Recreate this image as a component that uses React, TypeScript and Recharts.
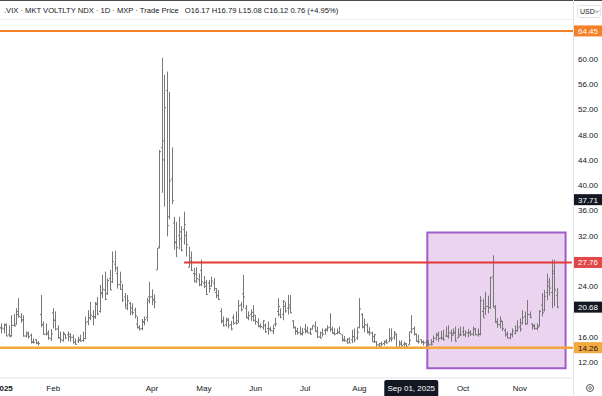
import React from 'react';
import { ComposedChart, Bar, XAxis, YAxis, ReferenceLine, ReferenceArea } from 'recharts';

// each bar: [day, open, high, low, close]
type Ohlc = [number, number, number, number, number];

const dec: Ohlc[] = [[30, 17.8, 19.4, 17.2, 17.4], [31, 17.4, 18.1, 16.5, 17.35]];
const jan: Ohlc[] = [
  [2, 17.2, 18.1, 16.5, 17.9], [3, 17.8, 18.1, 16.1, 16.1], [6, 16.3, 17.8, 16.0, 16.0], [7, 16.2, 19.4, 16.0, 17.8],
  [8, 17.8, 19.6, 17.6, 17.7], [10, 18.0, 20.5, 17.9, 19.5], [13, 20.0, 22.1, 19.0, 19.2], [14, 19.1, 19.7, 18.2, 18.7],
  [15, 18.6, 19.4, 16.0, 16.1], [16, 16.1, 16.8, 15.9, 16.6], [17, 16.3, 16.8, 15.7, 16.0], [21, 16.2, 16.5, 14.9, 15.1],
  [22, 15.2, 15.7, 14.9, 15.1], [23, 15.5, 15.6, 14.8, 15.0], [24, 15.0, 15.3, 14.6, 14.9], [27, 19.5, 22.6, 17.5, 17.9],
  [28, 17.9, 18.4, 16.3, 16.4], [29, 16.4, 18.1, 16.2, 16.6], [30, 16.4, 17.0, 15.5, 15.8], [31, 15.7, 17.2, 15.3, 16.4],
];
const feb: Ohlc[] = [
  [3, 19.8, 20.5, 17.3, 18.6], [4, 18.6, 20.0, 17.0, 17.2], [5, 17.2, 17.8, 15.7, 15.8], [6, 15.8, 16.8, 15.0, 15.5],
  [7, 15.4, 16.8, 15.2, 16.5], [10, 16.3, 16.4, 15.6, 15.8], [11, 16.3, 16.8, 15.3, 16.0], [12, 16.4, 16.5, 15.2, 15.9],
  [13, 15.9, 16.3, 14.9, 15.1], [14, 15.1, 15.7, 14.7, 14.8], [18, 15.3, 16.0, 15.0, 15.4], [19, 15.6, 16.3, 15.2, 15.3],
  [20, 15.4, 16.8, 15.2, 15.7], [21, 15.7, 19.2, 15.6, 18.2], [24, 18.4, 20.2, 17.8, 19.0], [25, 19.0, 21.5, 18.6, 19.4],
  [26, 19.2, 20.2, 17.8, 19.1], [27, 19.2, 21.5, 18.8, 21.1], [28, 21.3, 22.3, 19.4, 19.6],
];
const mar: Ohlc[] = [
  [3, 20.0, 24.2, 19.8, 22.8], [4, 23.0, 25.8, 22.1, 23.5], [5, 23.4, 26.3, 21.8, 21.9], [6, 22.8, 25.2, 22.6, 24.9],
  [7, 25.2, 26.6, 23.4, 23.4], [10, 24.7, 29.5, 24.5, 27.9], [11, 27.5, 29.6, 26.3, 26.9], [12, 26.0, 27.1, 23.6, 24.2],
  [13, 24.3, 26.3, 23.4, 24.7], [14, 23.5, 24.4, 21.5, 21.8], [17, 22.3, 22.9, 20.5, 20.5], [18, 21.0, 22.6, 20.2, 21.7],
  [19, 21.3, 21.5, 19.4, 19.9], [20, 20.5, 21.3, 19.4, 19.8], [21, 20.2, 20.6, 18.9, 19.3], [24, 18.0, 19.2, 17.3, 17.5],
  [25, 17.4, 17.8, 17.0, 17.2], [26, 17.3, 18.8, 17.0, 18.3], [27, 18.4, 19.2, 17.8, 18.7], [28, 19.0, 22.1, 18.4, 21.7],
  [31, 22.3, 24.7, 21.3, 22.3],
];
const apr: Ohlc[] = [
  [1, 22.3, 23.5, 21.0, 21.8], [2, 21.9, 22.7, 20.5, 21.5], [3, 26.6, 30.0, 26.6, 30.0], [4, 30.2, 45.6, 30.0, 45.3],
  [7, 46.0, 60.2, 38.8, 47.0], [8, 44.0, 57.5, 36.6, 52.3], [9, 55.0, 58.0, 31.9, 33.6], [10, 35.0, 54.8, 34.6, 40.7],
  [11, 41.0, 46.0, 37.0, 37.6], [14, 34.0, 35.0, 29.8, 30.9], [15, 31.0, 34.2, 28.6, 30.1], [16, 32.0, 35.0, 29.8, 32.6],
  [17, 31.5, 33.5, 29.5, 29.7], [21, 33.0, 35.8, 30.6, 33.8], [22, 32.0, 32.7, 28.7, 30.6], [23, 27.0, 30.3, 27.0, 28.5],
  [24, 28.0, 29.5, 26.4, 26.5], [25, 26.0, 26.9, 24.6, 24.8], [28, 25.9, 27.0, 24.5, 25.2], [29, 25.0, 26.0, 24.0, 24.2],
  [30, 26.5, 28.2, 24.0, 24.7],
];
const may: Ohlc[] = [
  [1, 24.5, 25.6, 23.7, 24.6], [2, 24.0, 25.0, 22.6, 22.7], [5, 24.5, 25.0, 23.0, 23.6], [6, 24.0, 25.5, 23.9, 24.8],
  [7, 24.5, 25.3, 23.2, 23.6], [8, 23.0, 23.7, 22.1, 22.5], [9, 22.5, 23.4, 21.8, 21.9], [12, 20.0, 20.5, 18.1, 18.4],
  [13, 18.6, 19.2, 17.6, 17.7], [14, 17.9, 19.0, 17.6, 18.6], [15, 18.8, 18.9, 17.3, 17.8], [16, 17.9, 18.5, 17.0, 17.2],
  [19, 19.0, 19.5, 17.9, 18.1], [20, 18.2, 20.0, 17.9, 18.1], [21, 18.5, 21.8, 18.2, 20.9], [22, 21.0, 21.5, 20.0, 20.3],
  [23, 22.8, 25.8, 20.5, 22.3], [27, 20.5, 21.0, 18.9, 19.0], [28, 19.0, 20.0, 18.6, 19.3], [29, 19.5, 20.3, 18.5, 19.2],
  [30, 19.8, 21.0, 18.4, 18.6],
];
const jun: Ohlc[] = [
  [2, 19.4, 19.4, 17.9, 18.4], [3, 18.3, 18.9, 17.5, 17.7], [4, 17.6, 18.1, 17.3, 17.6], [5, 17.5, 18.6, 17.1, 18.5],
  [6, 17.8, 18.1, 16.6, 16.8], [9, 17.3, 18.4, 16.3, 17.2], [10, 17.2, 17.6, 16.8, 17.0], [11, 16.9, 17.9, 16.4, 17.3],
  [12, 18.0, 19.0, 17.6, 18.0], [13, 20.0, 22.1, 19.2, 20.8], [16, 19.5, 20.5, 18.9, 19.1], [17, 19.5, 21.8, 18.6, 21.6],
  [18, 20.8, 21.5, 19.8, 20.1], [20, 20.5, 22.6, 19.5, 20.6], [23, 21.0, 22.6, 19.7, 19.8], [24, 18.5, 18.6, 17.3, 17.5],
  [25, 17.4, 17.6, 16.3, 16.8], [26, 16.9, 17.4, 16.3, 16.6], [27, 16.7, 17.6, 16.3, 16.3], [30, 16.5, 17.4, 16.2, 16.7],
];
const jul: Ohlc[] = [
  [1, 17.2, 18.0, 16.5, 16.8], [2, 17.0, 17.6, 16.6, 16.6], [3, 16.6, 17.4, 16.3, 16.4], [7, 17.2, 17.8, 17.1, 17.8],
  [8, 17.6, 18.4, 16.8, 16.8], [9, 16.9, 17.6, 15.8, 15.9], [10, 16.0, 16.8, 15.7, 15.8], [11, 16.6, 17.3, 16.0, 16.4],
  [14, 17.0, 17.3, 16.3, 17.2], [15, 17.0, 17.8, 16.8, 17.4], [16, 17.5, 19.7, 16.8, 17.2], [17, 17.1, 17.6, 16.5, 16.5],
  [18, 16.6, 17.3, 16.2, 16.4], [21, 16.5, 17.3, 16.4, 16.7], [22, 16.7, 17.6, 16.5, 16.5], [23, 16.3, 16.3, 15.2, 15.4],
  [24, 15.6, 16.1, 15.2, 15.4], [25, 15.3, 15.8, 14.9, 15.0], [28, 15.6, 15.9, 15.0, 15.0], [29, 15.5, 17.1, 15.0, 16.0],
  [30, 16.0, 17.3, 15.1, 15.5], [31, 15.8, 17.5, 15.5, 16.7],
];
const aug: Ohlc[] = [
  [1, 17.5, 22.1, 17.3, 20.4], [4, 19.5, 19.7, 17.3, 17.5], [5, 17.6, 18.9, 16.7, 17.9], [6, 17.8, 18.1, 16.5, 16.8],
  [7, 16.6, 17.5, 16.2, 16.6], [8, 16.6, 16.8, 15.2, 15.2], [11, 16.0, 16.4, 15.0, 16.3], [12, 15.2, 15.3, 14.4, 14.7],
  [13, 14.7, 15.0, 14.4, 14.5], [14, 14.9, 15.2, 14.5, 14.8], [15, 14.9, 15.4, 14.6, 15.1], [18, 15.3, 15.6, 14.9, 15.0],
  [19, 15.2, 17.3, 15.2, 15.6], [20, 15.8, 17.3, 15.2, 15.7], [21, 15.9, 16.9, 15.5, 16.6], [22, 16.3, 16.5, 14.2, 14.2],
  [25, 14.3, 15.4, 14.3, 14.8], [26, 15.0, 15.4, 14.4, 14.6], [27, 14.8, 15.2, 14.4, 14.9], [28, 14.8, 15.0, 14.2, 14.4],
  [29, 14.7, 16.8, 14.7, 15.4],
];
const sep: Ohlc[] = [
  [2, 16.8, 19.4, 16.5, 17.2], [3, 17.3, 17.6, 16.2, 16.4], [4, 16.4, 16.5, 15.2, 15.3], [5, 15.2, 16.3, 14.9, 15.2],
  [8, 15.5, 15.6, 14.9, 15.1], [9, 15.2, 15.4, 14.6, 15.0], [10, 15.1, 15.5, 14.4, 15.3], [11, 15.2, 15.4, 14.6, 14.7],
  [12, 14.8, 15.6, 14.6, 14.8], [15, 15.2, 16.2, 15.0, 15.7], [16, 15.8, 16.6, 15.4, 16.4], [17, 16.2, 16.8, 15.2, 15.7],
  [18, 15.8, 16.9, 15.5, 15.7], [19, 15.8, 17.1, 15.4, 15.5], [22, 16.1, 17.6, 16.0, 16.1], [23, 16.0, 17.8, 15.7, 16.6],
  [24, 16.6, 17.1, 15.2, 16.2], [25, 16.5, 17.3, 16.2, 16.7], [26, 16.6, 17.6, 15.2, 15.3], [29, 15.8, 17.3, 15.8, 16.1],
  [30, 16.4, 17.6, 16.1, 16.3],
];
const oct: Ohlc[] = [
  [1, 16.8, 17.6, 16.1, 16.3], [2, 16.3, 17.0, 15.9, 16.6], [3, 16.6, 17.2, 15.9, 16.7], [6, 16.6, 17.0, 16.1, 16.4],
  [7, 16.4, 17.6, 16.1, 17.2], [8, 17.2, 17.4, 16.2, 16.3], [9, 16.3, 17.3, 16.0, 16.4], [10, 16.4, 22.4, 16.2, 21.7],
  [13, 20.0, 22.0, 19.0, 19.0], [14, 20.5, 23.1, 19.4, 20.8], [15, 20.8, 22.5, 19.7, 20.6], [16, 20.6, 25.5, 20.4, 25.3],
  [17, 25.5, 28.9, 20.6, 20.8], [20, 20.5, 21.0, 18.2, 18.2], [21, 18.4, 18.9, 17.4, 17.9], [22, 17.9, 19.2, 17.3, 18.6],
  [23, 18.4, 18.5, 16.9, 17.3], [24, 17.0, 17.3, 16.0, 16.4], [27, 16.3, 16.8, 15.7, 15.8], [28, 15.8, 16.6, 15.6, 16.4],
  [29, 16.3, 17.3, 15.9, 16.9], [30, 16.5, 17.8, 16.4, 16.9], [31, 17.0, 18.6, 16.8, 17.4],
];
const nov: Ohlc[] = [
  [3, 17.6, 18.9, 16.8, 17.2], [4, 18.2, 20.2, 17.9, 19.0], [5, 19.2, 20.0, 17.9, 18.0], [6, 18.0, 21.8, 18.0, 19.5],
  [7, 19.5, 20.0, 18.9, 19.1], [10, 18.0, 18.1, 17.1, 17.6], [11, 17.8, 18.0, 17.1, 17.3], [12, 17.3, 18.1, 17.0, 17.5],
  [13, 17.7, 20.2, 17.6, 20.0], [14, 21.0, 22.9, 19.2, 19.8], [17, 20.2, 23.4, 20.0, 22.4], [18, 23.0, 26.0, 21.8, 24.7],
  [19, 24.0, 25.3, 22.5, 23.7], [20, 23.0, 28.2, 20.5, 26.4], [21, 26.0, 28.2, 20.8, 23.4], [24, 22.5, 23.7, 20.5, 20.7],
];
// empty sessions to the right of the last bar
const future = ['Nov 25', 'Nov 26', 'Nov 28', 'Dec 1', 'Dec 2', 'Dec 3'];

const months: [string, Ohlc[]][] = [
  ['Dec', dec], ['Jan', jan], ['Feb', feb], ['Mar', mar], ['Apr', apr], ['May', may],
  ['Jun', jun], ['Jul', jul], ['Aug', aug], ['Sep', sep], ['Oct', oct], ['Nov', nov],
];

const tickDates = ['Jan 2', 'Feb 3', 'Apr 1', 'May 1', 'Jun 2', 'Jul 1', 'Aug 1', 'Sep 2', 'Oct 1', 'Nov 3'];
const tickLabels = ['2025', 'Feb', 'Apr', 'May', 'Jun', 'Jul', 'Aug', 'Sep 01, 2025', 'Oct', 'Nov'];
const priceTicks = [12, 16, 24, 32, 36, 40, 44, 48, 52, 56, 60];

const topLevel = 64.45;
const markLevel = 37.71;
const resistLevel = 27.76;
const lastPrice = 20.68;
const supportLevel = 14.26;
const resistStart = 'Apr 21';
const boxStart = 'Sep 11';
const boxEnd = 'Nov 28';
const boxTop = 32.5;
const boxBottom = 11.0;

const header = '.VIX · MKT VOLTLTY NDX · 1D · MXP · Trade Price';
const headerValues = 'O16.17  H16.79  L15.08  C16.12  0.76 (+4.95%)';

const data = [
  ...months.flatMap(([m, rows]) =>
    rows.map(([day, o, h, l, c]) => ({ d: `${m} ${day}`, o, h, l, c }))
  ),
  ...future.map((d) => ({ d, o: null, h: null, l: null, c: null })),
];
const lastDate = future[future.length - 1];

const OhlcShape = (props: any) => {
  const { x, y, width, height, payload } = props;
  if (!payload || payload.h == null || !Number.isFinite(y)) return null;
  const top = Math.min(y, y + height);
  const span = Math.abs(height);
  const range = payload.h - payload.l || 1;
  const yOf = (v: number) => top + ((payload.h - v) / range) * span;
  const cx = Math.round(x + width / 2) + 0.5;
  return (
    <g stroke="#787878" strokeWidth={1}>
      <line x1={cx} x2={cx} y1={top} y2={top + Math.max(span, 1)} />
      <line x1={cx - 1.5} x2={cx} y1={yOf(payload.o)} y2={yOf(payload.o)} />
      <line x1={cx} x2={cx + 1.5} y1={yOf(payload.c)} y2={yOf(payload.c)} />
    </g>
  );
};

const PriceTag = (props: any) => {
  const { viewBox, price, bg, fg } = props;
  if (!viewBox) return null;
  const x = viewBox.x + viewBox.width;
  const y = viewBox.y;
  return (
    <g>
      <rect x={x + 1} y={y - 5.5} width={28} height={11} fill={bg} />
      <text x={x + 15} y={y + 3} textAnchor="middle" fontSize={8} fill={fg}>
        {price.toFixed(2)}
      </text>
    </g>
  );
};

const DateTick = (props: any) => {
  const { x, y, payload } = props;
  const label = tickLabels[tickDates.indexOf(payload.value)];
  if (label === 'Sep 01, 2025') {
    return (
      <g>
        <rect x={x - 27} y={y + 2} width={54} height={17} rx={2} fill="#131722" />
        <text x={x} y={y + 13} textAnchor="middle" fontSize={8} fill="#ffffff">{label}</text>
      </g>
    );
  }
  return (
    <text x={x} y={y + 13} textAnchor="middle" fontSize={8} fill="#131722" fontWeight={label === '2025' ? 700 : 400}>
      {label}
    </text>
  );
};

export default function App() {
  return (
    <div style={{ position: 'absolute', left: 0, top: 0, width: 602, height: 396, background: '#fff', fontFamily: '"Liberation Sans", Arial, sans-serif' }}>
      <ComposedChart width={602} height={396} data={data} margin={{ top: 20, right: 0, bottom: 0, left: -2.3 }} barCategoryGap={0}>
        <XAxis dataKey="d" ticks={tickDates} interval={0} tick={<DateTick />} tickLine={false} tickSize={0} tickMargin={0} height={18} axisLine={{ stroke: '#e0e3eb' }} />
        <YAxis orientation="right" width={29} domain={[9.45, 66.18]} allowDataOverflow ticks={priceTicks} tickFormatter={(v: number) => v.toFixed(2)} tick={{ fontSize: 8, fill: '#131722' }} tickLine={false} tickSize={0} tickMargin={5} axisLine={false} />
        <ReferenceArea x1={boxStart} x2={boxEnd} y1={boxBottom} y2={boxTop} fill="#9c27b0" fillOpacity={0.2} stroke="#a15cc9" strokeWidth={2} strokeOpacity={1} ifOverflow="visible" />
        <ReferenceLine y={topLevel} stroke="#f58025" strokeWidth={2} label={<PriceTag price={topLevel} bg="#f58025" fg="#ffffff" />} />
        <ReferenceLine y={supportLevel} stroke="#f3a73b" strokeWidth={2.5} label={<PriceTag price={supportLevel} bg="#f3a93d" fg="#131722" />} />
        <ReferenceLine segment={[{ x: resistStart, y: resistLevel }, { x: lastDate, y: resistLevel }]} stroke="#e53935" strokeWidth={2} />
        <Bar dataKey={(r: any) => (r.h == null ? null : [r.l, r.h])} shape={<OhlcShape />} isAnimationActive={false} />
        <ReferenceLine y={resistLevel} stroke="none" label={<PriceTag price={resistLevel} bg="#e04848" fg="#ffffff" />} />
        <ReferenceLine y={markLevel} stroke="none" label={<PriceTag price={markLevel} bg="#131722" fg="#ffffff" />} />
        <ReferenceLine y={lastPrice} stroke="none" label={<PriceTag price={lastPrice} bg="#131722" fg="#ffffff" />} />
      </ComposedChart>
      <svg width={602} height={396} style={{ position: 'absolute', left: 0, top: 0, pointerEvents: 'none' }}>
        <line x1={0} x2={602} y1={0.5} y2={0.5} stroke="#4a4a4a" />
        <line x1={0} x2={573} y1={19.5} y2={19.5} stroke="#eceef2" />
        <line x1={573.5} x2={573.5} y1={0} y2={396} stroke="#e0e3eb" />
        <text x={4} y={13} fontSize={7.6} fill="#131722">
          {header}
          <tspan dx={6}>{headerValues}</tspan>
        </text>
        <rect x={577.5} y={5.5} width={23} height={12} rx={2} fill="none" stroke="#e0e3eb" />
        <text x={580} y={14} fontSize={7} fill="#131722">USD</text>
        <path d="M595 10.5 L597 12.5 L599 10.5" fill="none" stroke="#555" strokeWidth={0.8} />
        <circle cx={590} cy={388} r={3.5} fill="none" stroke="#555" strokeWidth={1} />
        <circle cx={590} cy={388} r={1.3} fill="none" stroke="#555" strokeWidth={0.8} />
      </svg>
    </div>
  );
}
